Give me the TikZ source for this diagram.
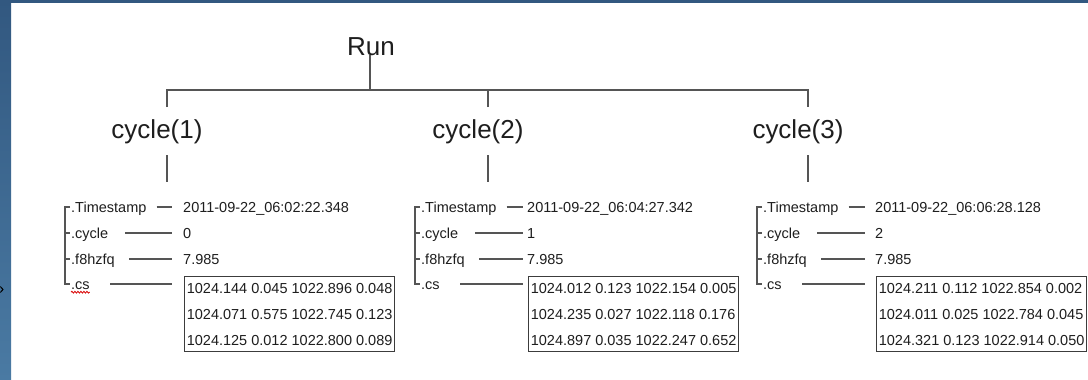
\documentclass[tikz,border=0pt]{standalone}
\usepackage{fontspec}
\setmainfont{Liberation Sans}
\usetikzlibrary{decorations.pathmorphing}

\definecolor{slide}{RGB}{74,122,163}
\definecolor{slidetop}{RGB}{50,88,128}
\definecolor{ink}{RGB}{30,30,30}
\definecolor{wire}{RGB}{85,85,85}

\tikzset{
  headtext/.style={font=\fontsize{26}{30}\selectfont, text=ink, inner sep=0pt},
  fieldtext/.style={font=\fontsize{14.5}{17}\selectfont, text=ink, inner sep=0pt,
    text height=10pt, text depth=0pt},
  wireline/.style={draw=wire, line width=1.2pt},
  rowbox/.style={draw=wire!70!black, line width=1.3pt, font=\fontsize{14.5}{26}\selectfont,
    text=ink, align=left, inner xsep=2pt, inner ysep=0pt,
    minimum width=210pt, minimum height=75pt},
}

\begin{document}
\begin{tikzpicture}[x=1pt, y=-1pt]
  \useasboundingbox (0,0) rectangle (1088,380);
  \fill[white] (0,0) rectangle (1088,380);
  \shade[top color=slidetop, middle color=slide!85!white, bottom color=slide]
    (0,0) rectangle (11,380);
  \fill[slidetop] (0,0) rectangle (1088,3);
  \draw[black, line width=1pt] (0.3,286.5) -- (3,289.5) -- (0.3,292.5);

  % root
  \coordinate (bus) at (370,90);
  \node[headtext, anchor=base] (run) at (371,55) {Run};

  % one cycle per column
  \foreach \i/\bx/\lx/\vx/\gap/\ts/\cy/\rA/\rB/\rC in {
    1/65/167/183/11/{2011-09-22\_06:02:22.348}/0/{1024.144 0.045 1022.896 0.048}/{1024.071 0.575 1022.745 0.123}/{1024.125 0.012 1022.800 0.089},
    2/415/488/527/4/{2011-09-22\_06:04:27.342}/1/{1024.012 0.123 1022.154 0.005}/{1024.235 0.027 1022.118 0.176}/{1024.897 0.035 1022.247 0.652},
    3/757/808/875/10/{2011-09-22\_06:06:28.128}/2/{1024.211 0.112 1022.854 0.002}/{1024.011 0.025 1022.784 0.045}/{1024.321 0.123 1022.914 0.050}}
  {
    \coordinate (d\i) at (\lx,107);
    \node[headtext, anchor=base] (cyc\i) at (\lx-10,138.5) {cycle(\i)};
    \coordinate (up\i) at (\lx,155);
    \coordinate (dn\i) at (\lx,182);
    \draw[wireline] (up\i) -- (dn\i);

    \node[fieldtext, anchor=west] (ts\i) at (\bx+6,207) {.Timestamp};
    \node[fieldtext, anchor=west] (cy\i) at (\bx+6,233) {.cycle};
    \node[fieldtext, anchor=west] (fq\i) at (\bx+6,259) {.f8hzfq};
    \node[fieldtext, anchor=west] (cs\i) at (\bx+6,284) {.cs};

    \node[fieldtext, anchor=west] (tsv\i) at (\vx,207) {\ts};
    \node[fieldtext, anchor=west] (cyv\i) at (\vx,233) {\cy};
    \node[fieldtext, anchor=west] (fqv\i) at (\vx,259) {7.985};
    \node[rowbox, anchor=north west] (csv\i) at (\vx+1,276) {\rA\\\rB\\\rC};

    \draw[wireline, shorten <=10pt, shorten >=\gap pt] (ts\i.east) -- (tsv\i.west);
    \draw[wireline, shorten <=17pt, shorten >=\gap pt] (cy\i.east) -- (cyv\i.west);
    \draw[wireline, shorten <=14.5pt, shorten >=\gap pt] (fq\i.east) -- (fqv\i.west);
    \draw[wireline, shorten <=20.5pt, shorten >=\gap pt+1pt] (cs\i.east) -- (cs\i.east -| csv\i.west);

    % bracket
    \draw[wireline] ([xshift=-1pt]ts\i.west) -| ([xshift=-6pt]cs\i.west) -- ([xshift=-1pt]cs\i.west);
    \draw[wireline] ([xshift=-6pt]cy\i.west) -- ++(5,0);
    \draw[wireline] ([xshift=-6pt]fq\i.west) -- ++(5,0);
  }

  \draw[wireline] (run.base -| bus) -- (bus);
  \draw[wireline] (d1) -- (d1 |- bus) -- (d3 |- bus) -- (d3);
  \draw[wireline] (d2) -- (d2 |- bus);

  \draw[red!85!black, line width=0.8pt, decorate,
    decoration={snake, amplitude=0.9pt, segment length=3pt}]
    ([yshift=-3pt]cs1.south west) -- ([yshift=-3pt]cs1.south east);
\end{tikzpicture}
\end{document}
